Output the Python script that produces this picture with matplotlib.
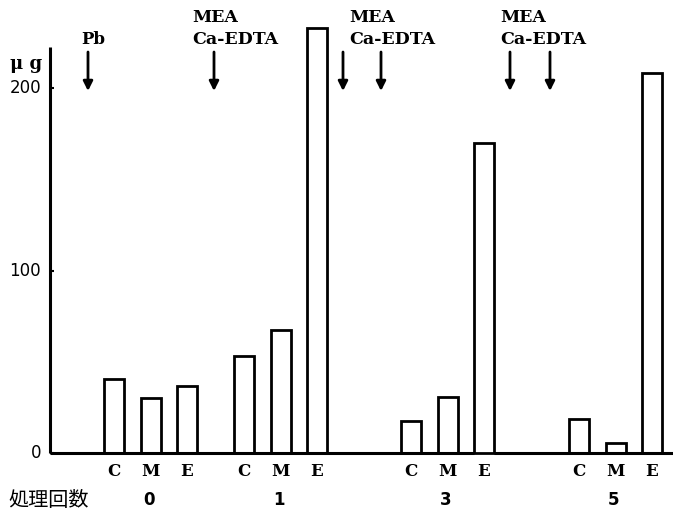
import matplotlib
matplotlib.use('Agg')
import matplotlib.pyplot as plt

# bar values (micrograms)
categories = ['C', 'M', 'E']
treatment_counts = ['0', '1', '3', '5']
values_0 = [40.5, 30.0, 36.5]
values_1 = [53.0, 67.5, 233.0]
values_3 = [17.5, 30.5, 170.0]
values_5 = [18.5, 5.5, 208.0]
y_ticks = [0, 100, 200]

# layout (x in pixel units, axes fills the figure)
W, H = 673, 514
Y0_PX = 453          # pixel row of y=0 (from top)
PX_PER_UNIT = 1.825
GROUP_START = [114, 244, 411, 579]
BAR_STEP = 36.5
BAR_W = 20

SERIF = ['DejaVu Serif']
SANS = ['DejaVu Sans']
JP = ['Noto Sans CJK JP', 'DejaVu Sans']


def yd(py):
    """pixel row (from top) -> data y"""
    return (Y0_PX - py) / PX_PER_UNIT


fig = plt.figure(figsize=(W / 100, H / 100), dpi=100)
ax = fig.add_axes([0, 0, 1, 1])
ax.set_xlim(0, W)
ax.set_ylim(yd(H), yd(0))
ax.axis('off')

lw = 2.0
groups = [values_0, values_1, values_3, values_5]
for g, vals in enumerate(groups):
    xs = [GROUP_START[g] + i * BAR_STEP for i in range(len(vals))]
    ax.bar(xs, vals, width=BAR_W, fill=False, edgecolor='black',
           linewidth=lw, zorder=3)
    for x, c in zip(xs, categories):
        ax.text(x, yd(471), c, ha='center', va='center', fontsize=12,
                fontweight='bold', family=SERIF)
    ax.text(xs[1] - 2, yd(500), treatment_counts[g], ha='center', va='center',
            fontsize=12, fontweight='bold', family=SANS)

# axes lines
ax.vlines(50, 0, yd(47), color='black', linewidth=2.2)
ax.hlines(0, 50, 474, color='black', linewidth=2.2)
ax.hlines(0, 494, W, color='black', linewidth=2.2)
for t in y_ticks:
    ax.hlines(t, 50, 54, color='black', linewidth=1.5)
    ax.text(41, t, str(t), ha='right', va='center', fontsize=12, family=SANS)
ax.text(10, yd(64), 'μ g', ha='left', va='center', fontsize=13,
        fontweight='bold', family=SERIF)
ax.text(8, yd(500), '処理回数', ha='left', va='center', fontsize=14.5,
        family=JP)

# injection arrows
arrow_x = [88, 214, 343, 381, 510, 550]
for x in arrow_x:
    ax.annotate('', xy=(x, yd(91)), xytext=(x, yd(52)),
                arrowprops=dict(arrowstyle='-|>', color='black', lw=2,
                                mutation_scale=14, shrinkA=0, shrinkB=0))

ax.text(81, yd(40), 'Pb', ha='left', va='center', fontsize=12,
        fontweight='bold', family=SERIF)
for x in [192, 349, 500]:
    ax.text(x, yd(17), 'MEA', ha='left', va='center', fontsize=12.5,
            fontweight='bold', family=SERIF)
    ax.text(x, yd(40), 'Ca-EDTA', ha='left', va='center', fontsize=12.5,
            fontweight='bold', family=SERIF)

fig.savefig('out.png', dpi=100, facecolor='white')
